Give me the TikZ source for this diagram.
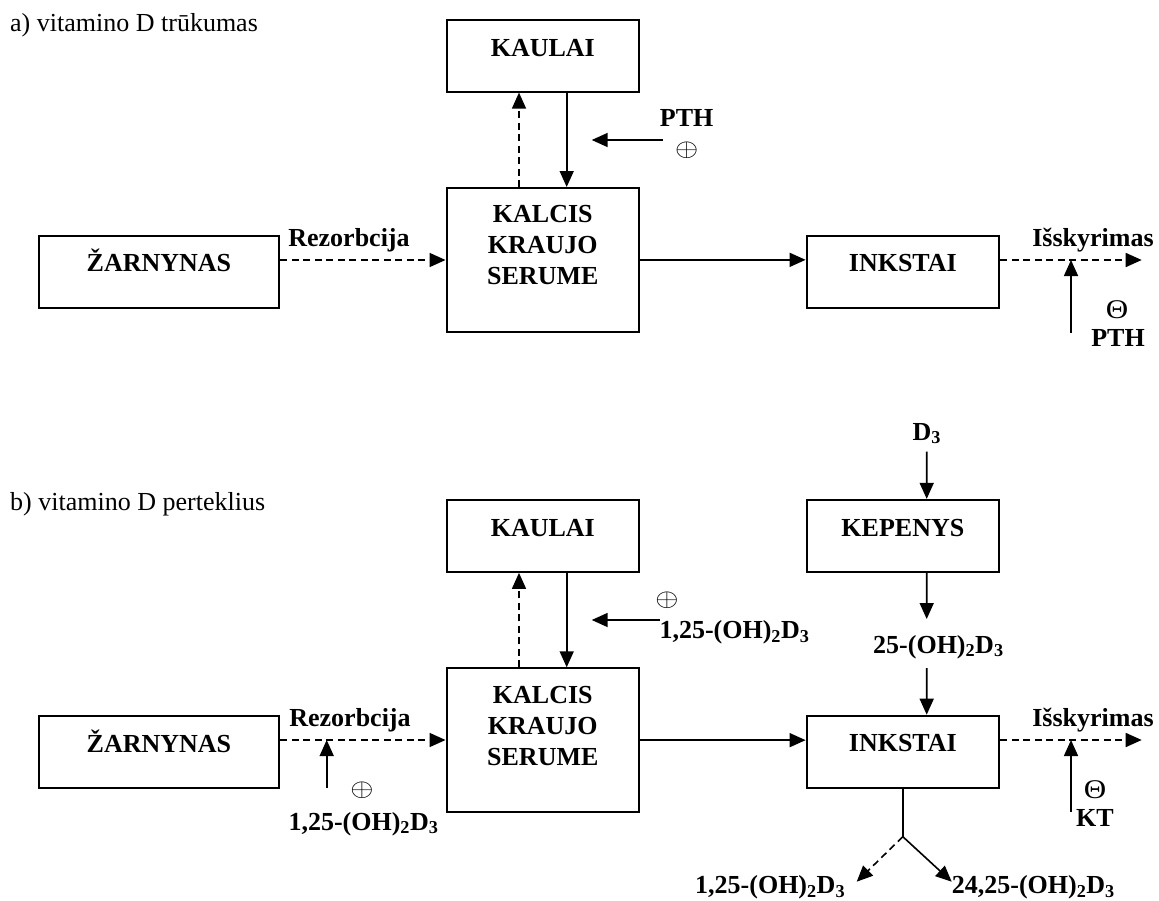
\documentclass[tikz,border=0pt]{standalone}
\usepackage{fontspec}
\setmainfont{Liberation Serif}
\usetikzlibrary{arrows.meta}
\begin{document}
\begin{tikzpicture}[x=1pt,y=-1pt,
  box/.style={draw, line width=2pt, minimum width=192.5pt, minimum height=72pt, inner sep=0pt},
  lbl/.style={font=\fontsize{26}{31}\selectfont\bfseries, inner sep=0pt, anchor=base},
  plain/.style={font=\fontsize{26}{31}\selectfont, inner sep=0pt, anchor=base west},
  sym/.style={font=\fontsize{24}{28}\selectfont, inner sep=0pt},
  thsym/.style={font=\fontsize{27}{30}\selectfont, inner sep=0pt},
  conn/.style={line width=1.6pt},
  arr/.style={conn, -{Triangle[length=16pt,width=14pt]}},
  dsh/.style={arr, dash pattern=on 7pt off 4.5pt}]
\useasboundingbox (0,0) rectangle (1159,900);

% ---------- a) ----------
\node[plain] (titA) at (10,31.5) {a) vitamino D trūkumas};

\node[box] (kaulaiA) at (542.8,55.6) {};
\node[lbl] (kaulaiAt) at (542.8,56) {KAULAI};
\node[box, minimum height=143.7pt] (kalcisA) at (542.8,259.85) {};
\node[lbl] (kalA1) at (542.8,222.7) {KALCIS};
\node[lbl] (kalA2) at (542.8,253.7) {KRAUJO};
\node[lbl] (kalA3) at (542.8,284.8) {SERUME};
\node[box, minimum width=240.8pt] (zarnA) at (158.9,271.7) {};
\node[lbl] (zarnAt) at (158.9,271.7) {ŽARNYNAS};
\node[box] (inkA) at (902.85,271.7) {};
\node[lbl] (inkAt) at (902.85,271.7) {INKSTAI};

\node[lbl] (rezA) at (349,246.7) {Rezorbcija};
\node[lbl] (pthA) at (686.7,126) {PTH};
\node[sym] (plA) at (686.7,150) {\scalebox{1.2}[1]{$\oplus$}};
\node[lbl] (iskA) at (1093,246.7) {Išskyrimas};
\node[thsym] (thA) at (1117,310) {\scalebox{1.15}[1]{Θ}};
\node[lbl] (pthA2) at (1118,346.7) {PTH};

\draw[dsh] ([xshift=-23.8pt]kalcisA.north) -- ([xshift=-23.8pt]kaulaiA.south);
\draw[arr] ([xshift=23.9pt]kaulaiA.south) -- ([xshift=23.9pt]kalcisA.north);
\coordinate (pthAs) at (663,140);
\coordinate (pthAe) at (591.7,140);
\draw[arr] (pthAs) -- (pthAe);
\coordinate (zA) at ([yshift=11.7pt]zarnA.east);
\draw[dsh] (zA) -- (zA -| kalcisA.west);
\draw[arr] (kalcisA.east) -- (kalcisA.east -| inkA.west);
\coordinate (iA) at ([yshift=11.7pt]inkA.east);
\coordinate (outA) at (1141.7,260);
\draw[dsh] (iA) -- (outA);
\coordinate (thAs) at (1071,332.7);
\coordinate (thAe) at (1071,260);
\draw[arr] (thAs) -- (thAe);

% ---------- b) ----------
\node[plain] (titB) at (10,510.7) {b) vitamino D perteklius};

\node[box] (kaulaiB) at (542.8,535.85) {};
\node[lbl] (kaulaiBt) at (542.8,536.2) {KAULAI};
\node[box] (kepB) at (902.85,535.85) {};
\node[lbl] (kepBt) at (902.85,536.2) {KEPENYS};
\node[box, minimum height=143.7pt] (kalcisB) at (542.8,740.15) {};
\node[lbl] (kalB1) at (542.8,703) {KALCIS};
\node[lbl] (kalB2) at (542.8,734) {KRAUJO};
\node[lbl] (kalB3) at (542.8,765.1) {SERUME};
\node[box, minimum width=240.8pt] (zarnB) at (158.9,751.85) {};
\node[lbl] (zarnBt) at (158.9,752) {ŽARNYNAS};
\node[box] (inkB) at (902.85,751.7) {};
\node[lbl] (inkBt) at (902.85,751.7) {INKSTAI};

\node[lbl] (d3) at (926.7,440) {D\textsubscript{3}};
\node[lbl, anchor=base west] (oh25) at (873,653) {25-(OH)\textsubscript{2}D\textsubscript{3}};
\node[sym] (plB) at (667,600) {\scalebox{1.2}[1]{$\oplus$}};
\node[lbl, anchor=base west] (ohR) at (659.3,638.3) {1,25-(OH)\textsubscript{2}D\textsubscript{3}};
\node[lbl] (rezB) at (350,726.7) {Rezorbcija};
\node[sym] (plC) at (362,790.7) {\scalebox{1.2}[1]{$\oplus$}};
\node[lbl, anchor=base west] (ohL) at (288.3,830) {1,25-(OH)\textsubscript{2}D\textsubscript{3}};
\node[lbl] (iskB) at (1093,726.7) {Išskyrimas};
\node[thsym] (thB) at (1095,790) {\scalebox{1.15}[1]{Θ}};
\node[lbl] (kt) at (1095,826.7) {KT};
\node[lbl, anchor=base west] (ohD1) at (695,893.3) {1,25-(OH)\textsubscript{2}D\textsubscript{3}};
\node[lbl, anchor=base west] (ohD2) at (951.7,893.3) {24,25-(OH)\textsubscript{2}D\textsubscript{3}};

\draw[dsh] ([xshift=-23.8pt]kalcisB.north) -- ([xshift=-23.8pt]kaulaiB.south);
\draw[arr] ([xshift=23.9pt]kaulaiB.south) -- ([xshift=23.9pt]kalcisB.north);
\coordinate (ohRs) at (660,620);
\coordinate (ohRe) at (591.7,620);
\draw[arr] (ohRs) -- (ohRe);
\coordinate (d3s) at (926.7,451.7);
\draw[arr] (d3s) -- ([xshift=23.85pt]kepB.north);
\coordinate (oh25a) at (926.7,619);
\draw[arr] ([xshift=23.85pt]kepB.south) -- (oh25a);
\coordinate (oh25b) at (926.7,668);
\draw[arr] (oh25b) -- ([xshift=23.85pt]inkB.north);
\coordinate (zB) at ([yshift=11.85pt]zarnB.east);
\draw[dsh] (zB) -- (zB -| kalcisB.west);
\coordinate (rzs) at (326.7,788);
\coordinate (rze) at (326.7,740);
\draw[arr] (rzs) -- (rze);
\draw[arr] (kalcisB.east) -- (kalcisB.east -| inkB.west);
\coordinate (iB) at ([yshift=11.7pt]inkB.east);
\coordinate (outB) at (1141.7,740);
\draw[dsh] (iB) -- (outB);
\coordinate (kts) at (1071,811.7);
\coordinate (kte) at (1071,740);
\draw[arr] (kts) -- (kte);
\coordinate (spl) at (902.85,836.7);
\coordinate (splR) at (951.7,881.7);
\coordinate (splL) at (856.7,881.7);
\draw[conn] (inkB.south) -- (spl);
\draw[arr] (spl) -- (splR);
\draw[dsh] (spl) -- (splL);
\end{tikzpicture}
\end{document}
